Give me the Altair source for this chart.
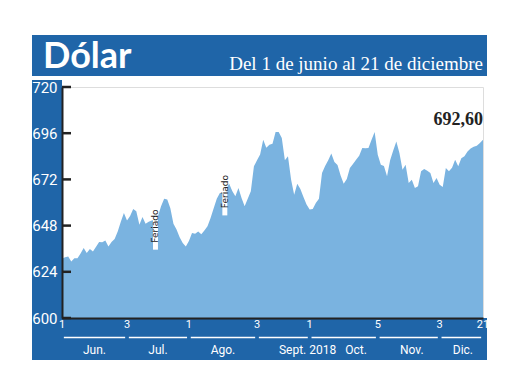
import altair as alt
import pandas as pd

# Trading-day closing values, 1 June - 21 December 2018 (index = trading day)
dolar = [
    630.8, 631.5, 632.0, 629.4, 631.0, 631.0, 633.5, 636.4, 633.8, 635.8,
    634.6, 637.0, 639.5, 639.3, 640.3, 637.2, 639.5, 641.0, 645.0, 650.0,
    654.5, 650.7, 653.0, 656.6, 655.5, 648.5, 652.5, 649.0, 650.0, 650.7,
    651.0, 652.8, 658.0, 662.0, 661.5, 657.0, 649.0, 646.0, 642.0, 639.0,
    637.2, 640.0, 644.2, 643.8, 645.0, 643.5, 645.5, 647.6, 652.0, 657.0,
    662.0, 665.0, 665.0, 667.0, 669.8, 666.0, 663.2, 667.5, 662.3, 658.0,
    662.0, 665.8, 678.8, 682.0, 685.0, 692.6, 688.5, 690.0, 690.5, 696.6,
    696.6, 693.5, 682.0, 684.0, 672.0, 664.0, 669.8, 667.0, 662.8, 659.0,
    656.3, 656.6, 659.7, 662.0, 675.3, 679.0, 681.9, 685.4, 681.0, 679.5,
    674.0, 669.8, 672.2, 677.9, 680.0, 682.2, 684.3, 688.3, 688.2, 688.3,
    692.6, 696.6, 684.8, 679.6, 679.0, 673.6, 682.0, 687.0, 691.7, 685.7,
    677.0, 679.6, 670.1, 671.8, 667.5, 668.4, 676.2, 677.4, 676.5, 675.3,
    670.1, 672.7, 669.2, 668.0, 677.9, 676.2, 678.0, 682.2, 678.8, 683.0,
    684.0, 686.5, 688.0, 689.0, 689.5, 690.9, 692.6,
]
y_ticks = [600, 624, 648, 672, 696, 720]
tick_idx = [0, 21, 41, 63, 80, 102, 122, 136]
tick_lbl = ["1", "3", "1", "3", "1", "5", "3", "21"]
months = ["Jun.", "Jul.", "Ago.", "Sept.", "Oct.", "Nov.", "Dic."]
month_pos = [10.5, 31, 52, 74.5, 95, 113, 129.5]
year_lbl = ["2018"]
year_pos = [84.2]
feriado_idx = [30.2, 52.6]
feriado_lo = [635.5, 653.3]
feriado_hi = [660.0, 678.0]
last_label = "692,60"

BLUE = "#1f65a8"
AREA = "#7ab3e0"
DARK = "#222222"
SANS = "Roboto"
SERIF = "Liberation Serif"

df = pd.DataFrame({"i": list(range(len(dolar))), "v": dolar})
one = pd.DataFrame({"a": [0]})

xsc = alt.Scale(domain=[0, len(dolar) - 1], nice=False, zero=False)
ysc = alt.Scale(domain=[600, 720], nice=False, zero=False)


def band(x1, x2, y1, y2):
    return alt.Chart(one).mark_rect(color=BLUE).encode(
        x=alt.value(x1), x2=alt.value(x2), y=alt.value(y1), y2=alt.value(y2)
    )


header = band(-30, 425, -52, -11)
left_col = band(-30, 0, -7, 273)
bottom = band(-30, 425, 231, 273)

area = alt.Chart(df).mark_area(color=AREA, opacity=1).encode(
    x=alt.X("i:Q", scale=xsc,
            axis=alt.Axis(labels=False, ticks=False, grid=False, title=None,
                          domainColor=DARK, domainWidth=2, zindex=1)),
    y=alt.Y("v:Q", scale=ysc,
            axis=alt.Axis(values=y_ticks, ticks=False, grid=False, title=None,
                          domainColor=DARK, domainWidth=2, labelColor="white",
                          labelFont=SANS, labelFontSize=15, labelPadding=5,
                          zindex=1)),
    y2=alt.datum(600),
)

yt = alt.Chart(pd.DataFrame({"v": y_ticks})).mark_rule(
    color=DARK, strokeWidth=2.5
).encode(y="v:Q", x=alt.value(0), x2=alt.value(9))

fer = pd.DataFrame({
    "i": [p - 0.8 for p in feriado_idx],
    "i2": [p + 0.8 for p in feriado_idx],
    "c": feriado_idx,
    "v": feriado_lo,
    "v2": feriado_hi,
    "m": [(a + b) / 2 for a, b in zip(feriado_lo, feriado_hi)],
    "t": ["Feriado", "Feriado"],
})
fer_box = alt.Chart(fer).mark_rect(color="white").encode(
    x="i:Q", x2="i2", y="v:Q", y2="v2"
)
fer_txt = alt.Chart(fer).mark_text(
    angle=270, fontSize=9, color=DARK, font="DejaVu Sans", baseline="middle"
).encode(x="c:Q", y="m:Q", text="t:N")

ticks_df = pd.DataFrame({"i": tick_idx, "t": tick_lbl})
xlab = alt.Chart(ticks_df).mark_text(
    color="white", fontSize=11, font=SANS, baseline="middle"
).encode(x="i:Q", y=alt.value(238), text="t:N")

seg = pd.DataFrame({
    "i": [a + 0.6 for a in tick_idx[:-1]],
    "i2": [b - 0.6 for b in tick_idx[1:]],
})
segs = alt.Chart(seg).mark_rule(color="white", strokeWidth=1.5).encode(
    x="i:Q", x2="i2", y=alt.value(250.5)
)

mon_df = pd.DataFrame({"i": month_pos + year_pos, "t": months + year_lbl})
mlab = alt.Chart(mon_df).mark_text(
    color="white", fontSize=12, font=SANS, baseline="middle"
).encode(x="i:Q", y=alt.value(263), text="t:N")

last = alt.Chart(pd.DataFrame({"i": [len(dolar) - 1], "v": [dolar[-1]], "t": [last_label]})).mark_text(
    align="right", baseline="alphabetic", dy=-15, fontSize=18, fontWeight="bold",
    font=SERIF, color=DARK
).encode(x="i:Q", y="v:Q", text="t:N")

title = alt.Chart(one).mark_text(
    text="Dólar", align="left", baseline="alphabetic", fontSize=36,
    fontWeight="bold", font="Lato", color="white"
).encode(x=alt.value(-19), y=alt.value(-19))

subtitle = alt.Chart(one).mark_text(
    text="Del 1 de junio al 21 de diciembre", align="right", baseline="alphabetic",
    fontSize=19, font=SERIF, color="white"
).encode(x=alt.value(421), y=alt.value(-17))

chart = alt.layer(
    header, left_col, bottom, area, yt, fer_box, fer_txt, xlab, segs, mlab,
    last, title, subtitle
).properties(
    width=421, height=231,
    autosize=alt.AutoSizeParams(type="none"),
    padding={"left": 54, "top": 79, "right": 29, "bottom": 50},
).configure_view(stroke=None).configure(background="white")

chart.save("out.html", embed_options={"renderer": "svg", "actions": False})
